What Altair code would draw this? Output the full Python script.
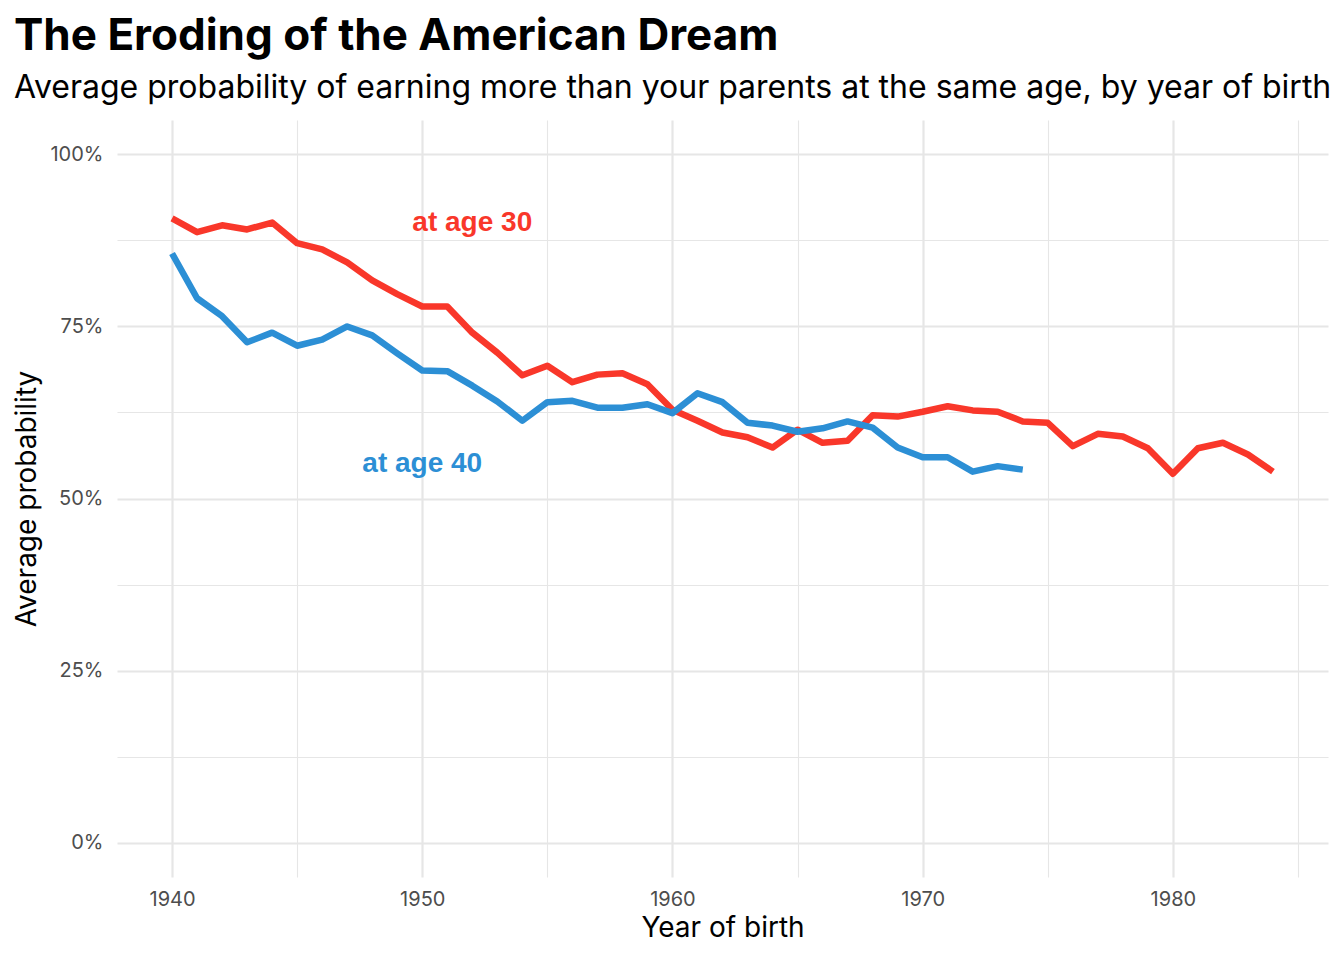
import altair as alt
import pandas as pd

years_30 = list(range(1940, 1985))
prob_30 = [0.907, 0.887, 0.897, 0.891, 0.901, 0.871, 0.862, 0.843, 0.817, 0.797,
           0.779, 0.779, 0.741, 0.712, 0.679, 0.693, 0.669, 0.680, 0.682, 0.666,
           0.629, 0.613, 0.596, 0.589, 0.574, 0.600, 0.581, 0.584, 0.621, 0.619,
           0.626, 0.634, 0.628, 0.626, 0.612, 0.610, 0.576, 0.594, 0.590, 0.573,
           0.536, 0.573, 0.581, 0.564, 0.539]

years_40 = list(range(1940, 1975))
prob_40 = [0.856, 0.791, 0.765, 0.727, 0.741, 0.722, 0.731, 0.750, 0.737, 0.711,
           0.686, 0.685, 0.664, 0.641, 0.613, 0.640, 0.642, 0.632, 0.632, 0.637,
           0.624, 0.653, 0.640, 0.610, 0.606, 0.597, 0.602, 0.612, 0.603, 0.574,
           0.560, 0.560, 0.539, 0.547, 0.542]

series = ["at age 30", "at age 40"]
colors = ["#F9372A", "#2C8FD5"]

label_year = [1952, 1950]
label_prob = [0.90, 0.55]

x_ticks = [1940, 1945, 1950, 1955, 1960, 1965, 1970, 1975, 1980, 1985]
y_ticks = [0, 0.125, 0.25, 0.375, 0.5, 0.625, 0.75, 0.875, 1.0]

df = pd.concat([
    pd.DataFrame({"year": years_30, "prob": prob_30, "age": series[0]}),
    pd.DataFrame({"year": years_40, "prob": prob_40, "age": series[1]}),
])
labels = pd.DataFrame({"year": label_year, "prob": label_prob, "age": series})

FONT = "Inter"
GRID = "#E6E6E6"

x = alt.X("year:Q", title="Year of birth",
          scale=alt.Scale(domain=[1937.8, 1986.2], nice=False, zero=False),
          axis=alt.Axis(values=x_ticks, format="d",
                        labelExpr="datum.value % 10 === 0 ? datum.label : ''",
                        gridWidth={"condition": {"test": "datum.value % 10 === 0", "value": 2.2}, "value": 1.1},
                        labelPadding=12, titlePadding=5))
y = alt.Y("prob:Q", title="Average probability",
          scale=alt.Scale(domain=[-0.05, 1.05], nice=False, zero=False),
          axis=alt.Axis(values=y_ticks, format=".0%",
                        labelExpr="(datum.value * 100) % 25 === 0 ? datum.label : ''",
                        gridWidth={"condition": {"test": "(datum.value * 100) % 25 === 0", "value": 2.2}, "value": 1.1},
                        labelPadding=14, titlePadding=8))
color = alt.Color("age:N", scale=alt.Scale(domain=series, range=colors), legend=None)

lines = alt.Chart(df).mark_line(strokeWidth=6.5, strokeJoin="round", strokeCap="butt").encode(
    x=x, y=y, color=color, detail="age:N"
)

text = alt.Chart(labels).mark_text(
    font="Liberation Sans", fontWeight="bold", fontSize=28, align="center", baseline="middle"
).encode(x="year:Q", y="prob:Q", text="age:N", color=color)

chart = alt.layer(lines, text).properties(
    width=1211,
    height=757,
    autosize=alt.AutoSizeParams(type="none"),
    padding={"left": 109, "top": 112, "right": 8, "bottom": 72},
    title=alt.Title(
        "The Eroding of the American Dream",
        subtitle="Average probability of earning more than your parents at the same age, by year of birth",
        anchor="start", frame="bounds", font=FONT, fontSize=44, fontWeight="bold", color="black",
        subtitleFont=FONT, subtitleFontSize=32, subtitleColor="black", subtitlePadding=14, offset=16,
    ),
).configure_view(
    strokeWidth=0
).configure_axis(
    domain=False,
    ticks=False,
    gridColor=GRID,
    labelFont=FONT,
    labelFontSize=20,
    labelColor="#4D4D4D",
    titleFont=FONT,
    titleFontSize=28,
    titleFontWeight="normal",
    titleColor="black",
)

chart.save("out.html", embed_options={"renderer": "svg", "actions": False})
